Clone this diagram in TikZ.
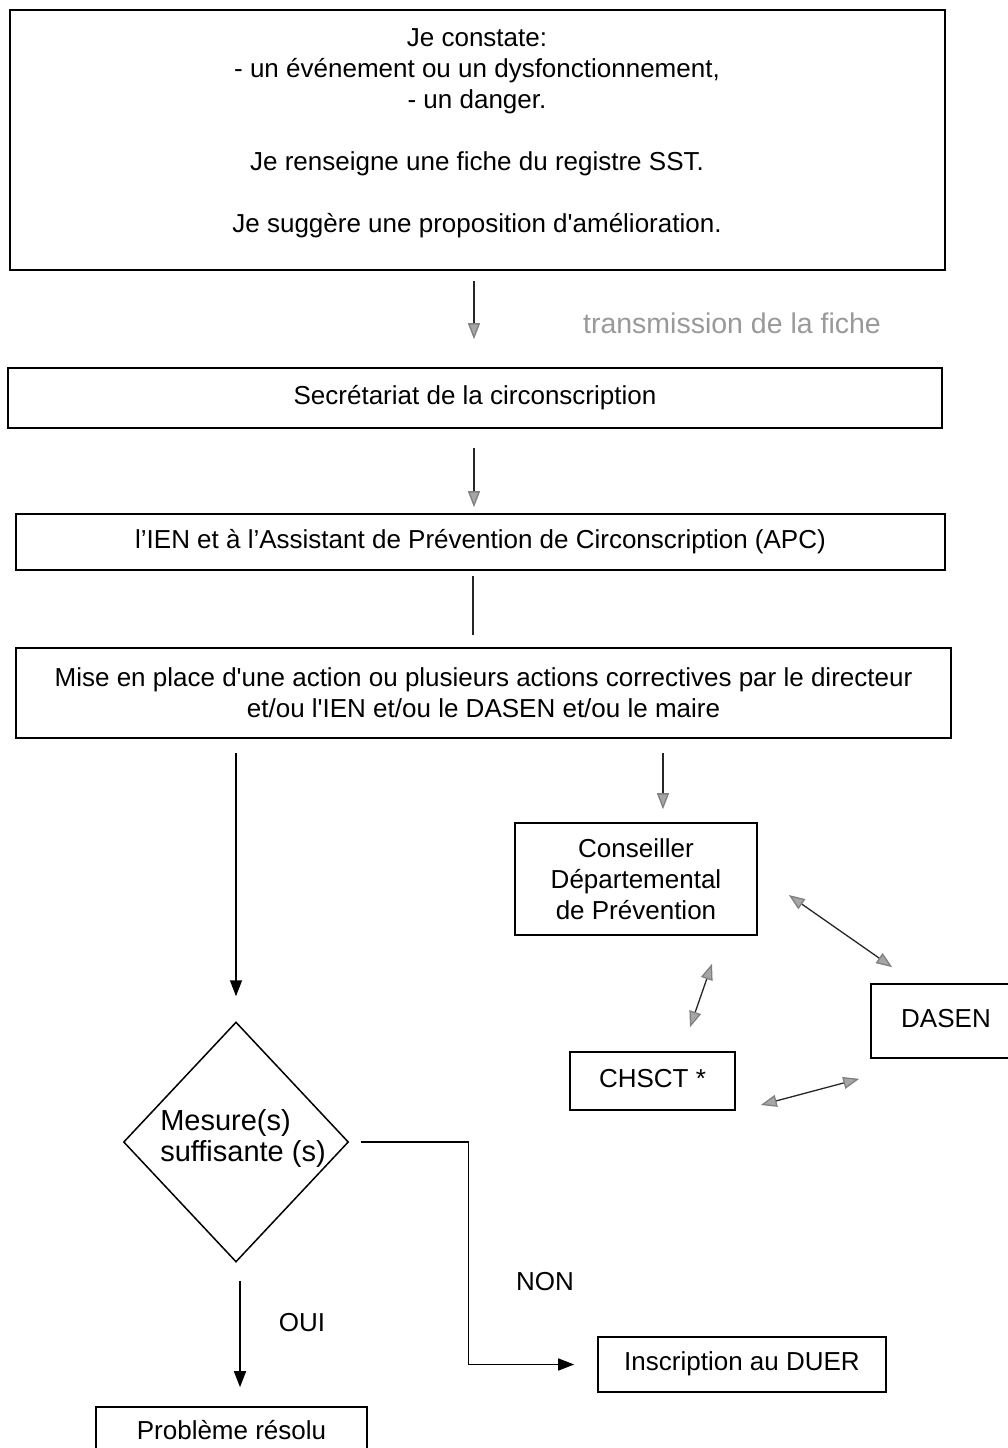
\documentclass[tikz,border=0pt]{standalone}
\usepackage{fontspec}
\setmainfont{Liberation Sans}
\usetikzlibrary{arrows.meta,shapes.geometric}
\newcommand{\sq}{\textquotesingle}

\begin{document}
\begin{tikzpicture}[x=1pt,y=-1pt,
  font=\fontsize{26}{31}\selectfont,
  box/.style={draw,line width=1.6pt,inner sep=0pt},
  gline/.style={draw=black!85,line width=1.3pt},
  grayhead/.style={gline,-{Triangle[length=16pt,width=12pt,fill=gray!70,color=gray]}},
  grayboth/.style={gline,{Triangle[length=16pt,width=12pt,fill=gray!70,color=gray]}-{Triangle[length=16pt,width=12pt,fill=gray!70,color=gray]}},
  blackhead/.style={draw=black,line width=1.5pt,-{Triangle[length=16pt,width=12pt]}}]
  \useasboundingbox (0,0) rectangle (1007,1448);

  %%% constat
  \node[box,minimum width=935,minimum height=260] (constat) at (477.5,140) {};
  \node[align=center] (constattxt) at (477,133)
    {Je constate:\\- un événement ou un dysfonctionnement,\\- un danger.\\[31pt]Je renseigne une fiche du registre SST.\\[31pt]Je suggère une proposition d\sq amélioration.};
  \node[gray!80,font=\fontsize{28.5}{31}\selectfont] (transm) at (732,323) {transmission de la fiche};

  %%% circonscription
  \node[box,minimum width=934,minimum height=60] (secretariat) at (475,398) {\strut Secrétariat de la circonscription};
  \node[box,minimum width=929,minimum height=56] (ien) at (480.5,542) {\strut l’IEN et à l’Assistant de Prévention de Circonscription (APC)};
  \node[box,minimum width=935,minimum height=90,align=center] (action) at (483.5,693)
    {Mise en place d\sq une action ou plusieurs actions correctives par le directeur\\et/ou l\sq IEN et/ou le DASEN et/ou le maire};

  %%% prevention
  \node[box,minimum width=242,minimum height=112,align=center] (cdp) at (636,879) {Conseiller\\Départemental\\de Prévention};
  \node[box,minimum width=150,minimum height=74] (dasen) at (946,1021) {\strut DASEN};
  \node[box,minimum width=165,minimum height=58] (chsct) at (652.5,1081) {\strut CHSCT *};

  %%% decision
  \node[diamond,draw,line width=1.5pt,minimum width=225,minimum height=240,inner sep=0pt] (mesure) at (236,1142) {};
  \node[align=left,font=\fontsize{29}{31}\selectfont] (mesuretxt) at (243,1138) {Mesure(s)\\suffisante (s)};
  \node[box,minimum width=288,minimum height=55] (duer) at (742,1364.5) {\strut Inscription au DUER};
  \node[box,minimum width=271,minimum height=52] (resolu) at (231.5,1433) {\strut Problème résolu};
  \node (non) at (545,1284) {\strut NON};
  \node (oui) at (302,1325) {\strut OUI};

  %%% liens
  \draw[grayhead,shorten <=10pt,shorten >=28pt] ([xshift=-3.5pt]constat.south) -- ([xshift=-1pt]secretariat.north);
  \draw[grayhead,shorten <=19pt,shorten >=6pt] ([xshift=-1pt]secretariat.south) -- ([xshift=-6.5pt]ien.north);
  \draw[gline,shorten <=5pt,shorten >=12pt] ([xshift=-7.5pt]ien.south) -- ([xshift=-10.5pt]action.north);
  \draw[blackhead,shorten <=14pt,shorten >=25pt] (action.south -| mesure.north) -- (mesure.north);
  \draw[grayhead,shorten <=14pt,shorten >=13pt] ([xshift=27pt]cdp.north |- action.south) -- ([xshift=27pt]cdp.north);
  \draw[grayboth] ([shift={(31,16)}]cdp.east) -- ([shift={(22,-16)}]dasen.north west);
  \draw[grayboth] ([shift={(76,28)}]cdp.south) -- ([shift={(37.5,-24)}]chsct.north);
  \draw[grayboth] ([shift={(25,24)}]chsct.east) -- ([shift={(-11,20)}]dasen.south west);
  \draw[blackhead,shorten <=12pt,shorten >=23pt] (mesure.east) -- ++(119,0) |- (duer.west);
  \draw[blackhead,shorten <=18pt,shorten >=19pt] ([xshift=4pt]mesure.south) -- ([xshift=8.5pt]resolu.north);
\end{tikzpicture}
\end{document}
